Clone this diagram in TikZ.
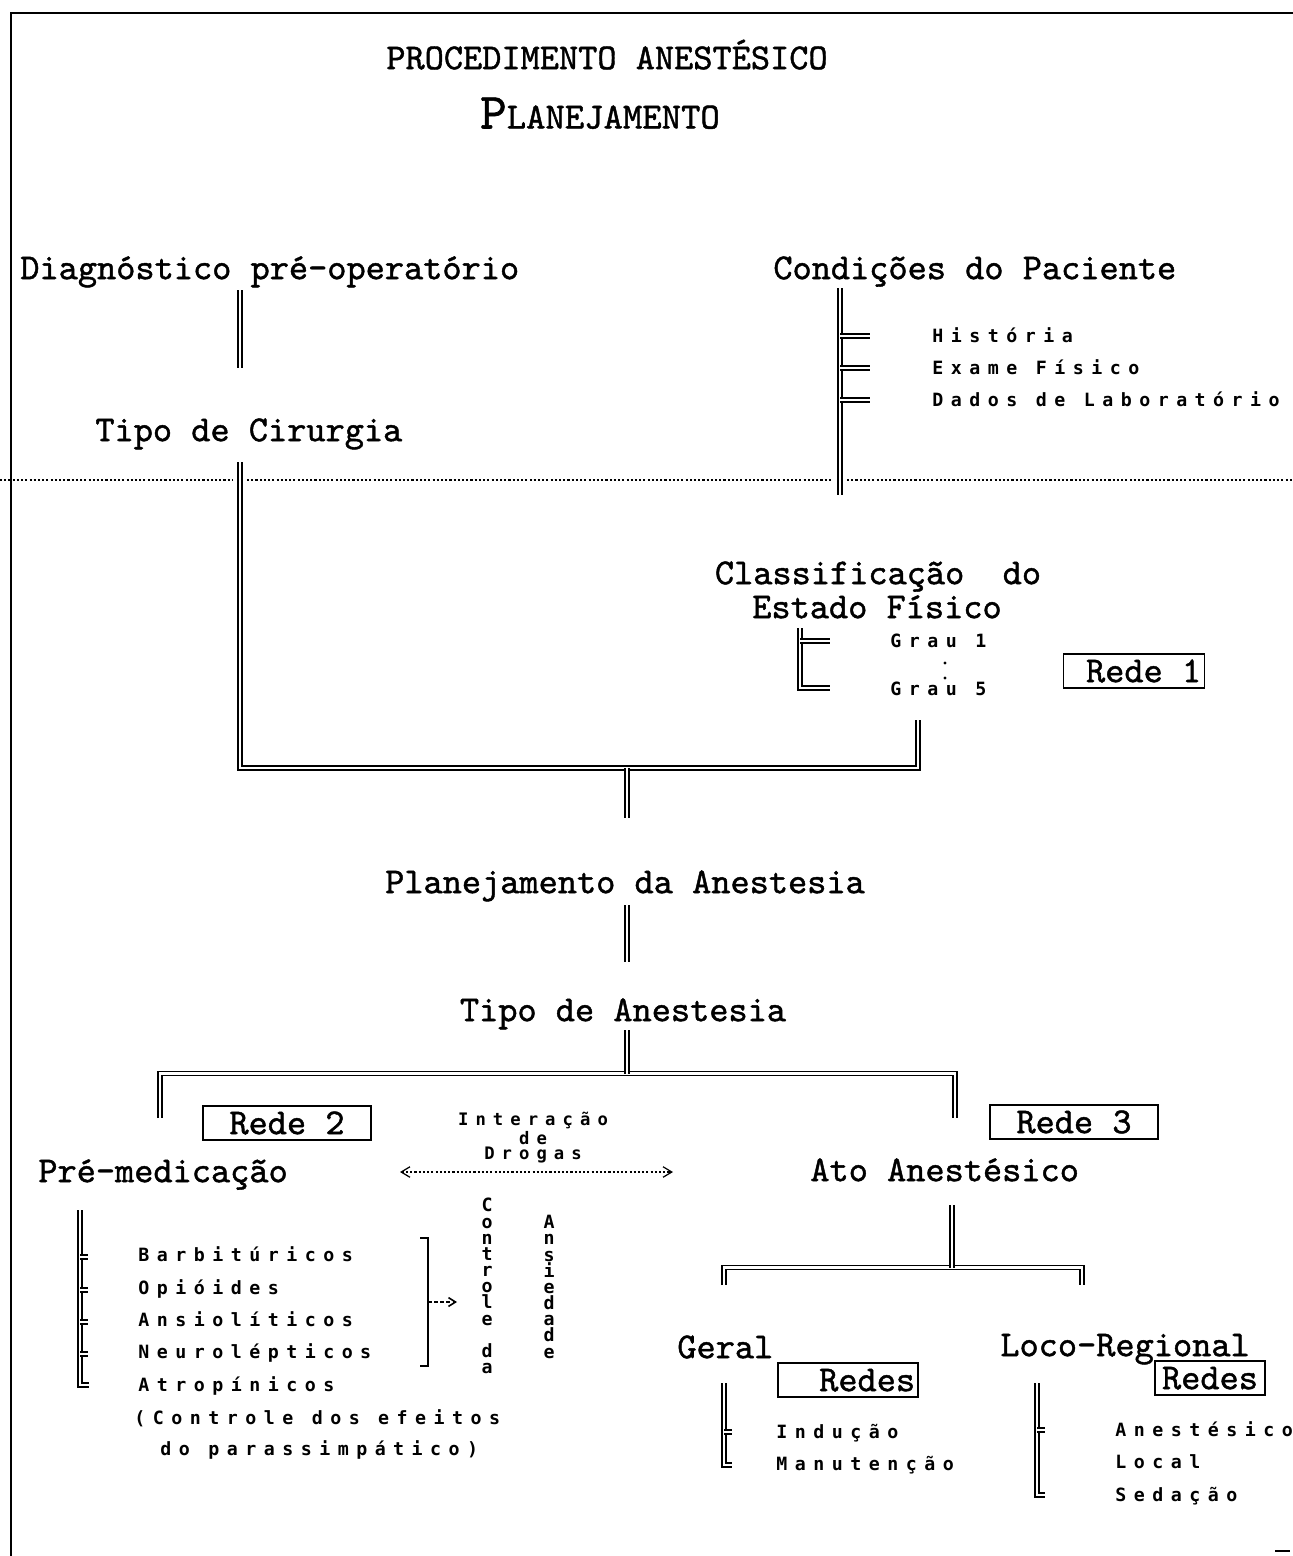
\documentclass[tikz,border=0pt]{standalone}
\usepackage{fontspec}
\newfontfamily\smallf[LetterSpace=41]{DejaVu Sans Mono}
\newfontfamily\vertf{DejaVu Sans Mono}
\newfontfamily\bigf{lmmono10-regular}[Extension=.otf, FakeBold=1.2]
\usetikzlibrary{arrows.meta}
\begin{document}
\begin{tikzpicture}[x=0.02cm,y=-0.02cm,
  big/.style={font=\bigf\fontsize{20.8}{24}\selectfont, inner sep=0pt, text height=12.7pt, text depth=0pt},
  sm/.style={font=\smallf\bfseries\fontsize{10.4}{12}\selectfont, inner sep=0pt, text height=7.6pt, text depth=0pt, anchor=west},
  vt/.style={font=\vertf\bfseries\fontsize{10.4}{9.2}\selectfont, inner sep=0pt, align=center, anchor=north},
  dbl/.style={double, double distance=1.4pt, line width=0.9pt},
  redebox/.style={draw, line width=0.9pt, big, inner sep=0pt, minimum height=0.68cm},
  sep/.style={line width=0.7pt, dash pattern=on 1.2pt off 1.2pt}]
\useasboundingbox (0,0) rectangle (1293,1556);
% frame
\draw[line width=1.4pt] (11,1556) -- (11,13) -- (1293,13);
\draw[line width=1.2pt] (1275,1551) -- (1290,1551);
% titles
\node[big] (t1) at (607,58) {PROCEDIMENTO ANESTÉSICO};
\node[big, text height=17.6pt] (t2) at (600,113) {{\fontsize{28.8}{30}\selectfont P}\fontsize{21}{24}\selectfont LANEJAMENTO};
% upper nodes
\node[big, anchor=west] (diag) at (20,268) {Diagnóstico pré-operatório};
\node[big, anchor=west] (cond) at (773,268) {Condições do Paciente};
\node[big, anchor=west] (tipoc) at (95,430) {Tipo de Cirurgia};
\node[sm] (hist) at (932,336) {História};
\node[sm] (exame) at (932,368) {Exame Físico};
\node[sm] (dados) at (932,400) {Dados de Laboratório};
% separator
\draw[sep] (0,480) -- (233,480);
\draw[sep] (247,480) -- (833,480);
\draw[sep] (847,480) -- (1293,480);
% connectors upper
\coordinate (d1) at (240,290); \coordinate (d2) at (240,368);
\draw[dbl] (d1) -- (d2);
\coordinate (c1) at (840,288); \coordinate (c2) at (840,495);
\draw[dbl] (c1) -- (c2);
\foreach \yy in {336,368,400} \draw[dbl] (840,\yy) -- (870,\yy);
% classification
\node[big] (class1) at (878,573) {Classificação\ \ do};
\node[big] (class2) at (877,607) {Estado Físico};
\node[sm] (g1) at (890,641) {Grau 1};
\node[sm] (g5) at (890,689) {Grau 5};
\fill (945,663) circle (1.7);
\fill (945,678) circle (1.7);
\draw[dbl] (800,628) -- (800,688) -- (830,688);
\draw[dbl] (800,641) -- (830,641);
\node[redebox, minimum width=2.82cm] (rede1) at (1134,671) {\ Rede 1};
% big bracket
\coordinate (tc1) at (240,462);
\coordinate (jr) at (918,720);
\coordinate (jm) at (627,768);
\coordinate (jm2) at (627,818);
\draw[dbl] (tc1) -- (240,768) -- (918,768) -- (jr);
\draw[dbl] (jm) -- (jm2);
\node[big] (plan) at (625,882) {Planejamento da Anestesia};
\coordinate (p1) at (627,905); \coordinate (p2) at (627,962);
\draw[dbl] (p1) -- (p2);
\node[big] (tipoa) at (623,1010) {Tipo de Anestesia};
% anesthesia bracket
\coordinate (ta1) at (627,1030); \coordinate (ta2) at (627,1073.5);
\coordinate (bl) at (160,1118); \coordinate (br) at (955,1118);
\draw[dbl] (bl) -- (160,1073.5) -- (955,1073.5) -- (br);
\draw[dbl] (ta1) -- (ta2);
\node[redebox, minimum width=3.36cm] (rede2) at (287,1123) {Rede 2};
\node[redebox, minimum width=3.36cm] (rede3) at (1074,1122) {Rede 3};
\node[font=\smallf\bfseries\fontsize{9.8}{9.0}\selectfont, align=center, inner sep=0pt] (inter) at (533,1138) {Interação\\de\\Drogas};
\node[big, anchor=west] (premed) at (38,1171) {Pré-medicação};
\node[big, anchor=west] (ato) at (810,1170) {Ato Anestésico};
\coordinate (ia) at (400,1172); \coordinate (ib) at (673,1172);
\draw[sep, {Straight Barb[length=5pt,width=6pt]}-{Straight Barb[length=5pt,width=6pt]}] (ia) -- (ib);
% pre-medication list
\node[sm] (barb) at (138,1255) {Barbitúricos};
\node[sm] (opi) at (138,1288) {Opióides};
\node[sm] (ansi) at (138,1320) {Ansiolíticos};
\node[sm] (neur) at (138,1352) {Neurolépticos};
\node[sm] (atro) at (138,1385) {Atropínicos};
\node[sm] (ce1) at (134,1418) {(Controle dos efeitos};
\node[sm] (ce2) at (160,1449) {do parassimpático)};
\draw[dbl] (80,1210) -- (80,1385) -- (89,1385);
\foreach \yy in {1257,1290,1322,1354} \draw[dbl] (80,\yy) -- (88,\yy);
\draw[line width=1.1pt] (420,1238) -- (428,1238) -- (428,1366) -- (420,1366);
\coordinate (ar1) at (428,1302); \coordinate (ar2) at (457,1302);
\draw[line width=0.9pt, dash pattern=on 2pt off 1.5pt, -{Straight Barb[length=4pt,width=5pt]}] (ar1) -- (ar2);
\node[vt] (ctrl) at (487,1198) {C\\o\\n\\t\\r\\o\\l\\e\\\mbox{}\\d\\a};
\node[vt] (ansd) at (549,1215) {A\\n\\s\\i\\e\\d\\a\\d\\e};
% ato anestesico
\coordinate (a1) at (952,1205); \coordinate (a2) at (952,1267.5);
\coordinate (gl) at (724,1285); \coordinate (gr) at (1082,1285);
\draw[dbl] (gl) -- (724,1267.5) -- (1082,1267.5) -- (gr);
\draw[dbl] (a1) -- (a2);
\node[big, anchor=west] (geral) at (677,1347) {Geral};
\node[big, anchor=west] (loco) at (1000,1345) {Loco-Regional};
\node[redebox, minimum width=2.8cm] (redesg) at (848,1380) {\ \ Redes};
\node[redebox, minimum width=2.2cm] (redesl) at (1210,1378) {Redes};
\node[sm] (ind) at (776,1432) {Indução};
\node[sm] (man) at (776,1464) {Manutenção};
\draw[dbl] (724,1383) -- (724,1465) -- (732,1465);
\draw[dbl] (724,1432) -- (732,1432);
\node[sm] (anst) at (1115,1430) {Anestésico};
\node[sm] (locl) at (1115,1462) {Local};
\node[sm] (seda) at (1115,1495) {Sedação};
\draw[dbl] (1037,1383) -- (1037,1495) -- (1045,1495);
\draw[dbl] (1037,1430) -- (1045,1430);
\end{tikzpicture}
\end{document}
